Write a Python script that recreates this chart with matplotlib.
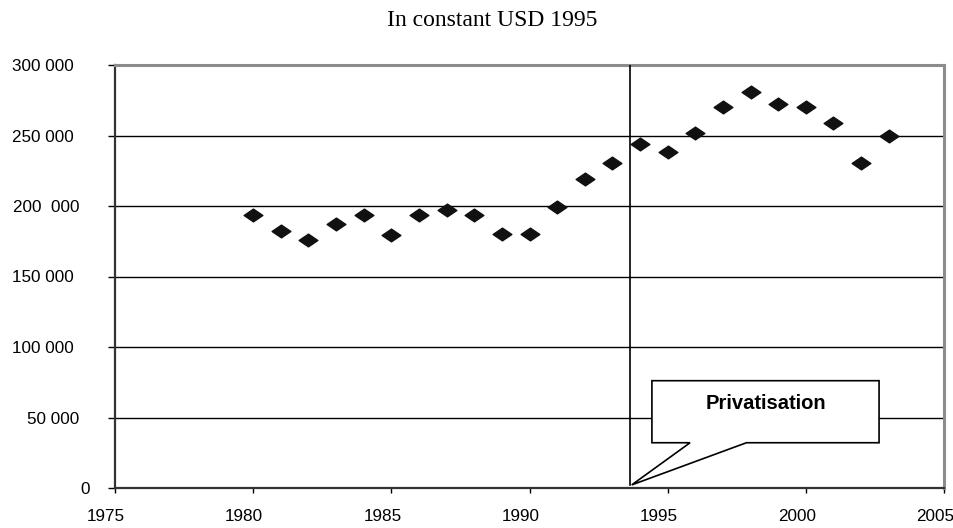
import matplotlib
matplotlib.use('Agg')
import matplotlib.pyplot as plt
from matplotlib.path import Path
from matplotlib.patches import Polygon
from matplotlib.ticker import FixedLocator
from matplotlib.transforms import ScaledTranslation

# data
years = [1980, 1981, 1982, 1983, 1984, 1985, 1986, 1987, 1988, 1989, 1990,
         1991, 1992, 1993, 1994, 1995, 1996, 1997, 1998, 1999, 2000, 2001,
         2002, 2003]
values = [193500, 182000, 176000, 187500, 193500, 179500, 193500, 197000,
          193500, 180000, 180000, 199000, 219500, 230500, 243800, 238500,
          251500, 270000, 281000, 272000, 270000, 259000, 230500, 249500]
y_ticks = [0, 50000, 100000, 150000, 200000, 250000, 300000]
y_labels = ['0', '50 000', '100 000', '150 000', '200  000', '250 000', '300 000']
x_ticks = [1975, 1980, 1985, 1990, 1995, 2000, 2005]
privatisation_year = 1993.65
title = 'In constant USD 1995'
callout_text = 'Privatisation'

fig = plt.figure(figsize=(9.54, 5.28), dpi=100)
ax = fig.add_axes([115 / 954, 1 - 488 / 528, 829 / 954, 423 / 528])

ax.set_xlim(1975, 2005)
ax.set_ylim(0, 300000)

# horizontal grid
for yv in y_ticks[1:-1]:
    ax.axhline(yv, color='black', lw=1.0, zorder=1)

# flattened diamond marker
diamond = Path([(-1, 0), (0, 0.68), (1, 0), (0, -0.68), (-1, 0)],
               [Path.MOVETO, Path.LINETO, Path.LINETO, Path.LINETO, Path.CLOSEPOLY])
ax.plot(years, values, linestyle='none', marker=diamond, markersize=13.5,
        color='#111111', zorder=4)

# privatisation line
ax.plot([privatisation_year, privatisation_year], [2000, 300000],
        color='black', lw=1.2, zorder=3)

# callout box with tail
box_x0, box_x1 = 1994.43, 2002.65
box_y0, box_y1 = 32100, 76100
tail_a, tail_b = 1995.81, 1997.85
tip = (privatisation_year + 0.05, 2200)
callout = Polygon([(box_x0, box_y0), (box_x0, box_y1), (box_x1, box_y1),
                   (box_x1, box_y0), (tail_b, box_y0), tip, (tail_a, box_y0)],
                  closed=True, facecolor='white', edgecolor='black', lw=1.2,
                  zorder=5)
ax.add_patch(callout)
ax.text((box_x0 + box_x1) / 2, 60000, callout_text, ha='center', va='center',
        fontsize=14.5, fontweight='bold',
        family=['Liberation Sans Narrow', 'Liberation Sans', 'DejaVu Sans'],
        zorder=6)

# frame
for side in ['top', 'right']:
    ax.spines[side].set_color('#8c8c8c')
    ax.spines[side].set_linewidth(2.2)
for side in ['left', 'bottom']:
    ax.spines[side].set_color('#333333')
    ax.spines[side].set_linewidth(1.6)

ax.yaxis.set_major_locator(FixedLocator(y_ticks))
ax.set_yticklabels(y_labels)
ax.xaxis.set_major_locator(FixedLocator(x_ticks))
ax.set_xticklabels([str(x) for x in x_ticks])
ax.tick_params(axis='y', direction='out', length=5, width=1, pad=25,
               labelsize=12.3)
ax.tick_params(axis='x', direction='out', length=3.5, width=1, pad=11.5,
               labelsize=12.3)

# the original labels sit a little off their ticks
y_shift = [17, 6, 0, 0, 6, 0, 0]
for lab, dx in zip(ax.get_yticklabels(), y_shift):
    lab.set_family(['Liberation Sans', 'DejaVu Sans'])
    lab.set_transform(lab.get_transform() +
                      ScaledTranslation(dx / 100, 0, fig.dpi_scale_trans))
for lab in ax.get_xticklabels():
    lab.set_family(['Liberation Sans', 'DejaVu Sans'])
    lab.set_transform(lab.get_transform() +
                      ScaledTranslation(-9 / 100, 0, fig.dpi_scale_trans))

fig.text(492 / 954, 1 - 21 / 528, title, ha='center', va='center',
         fontsize=17, family=['Liberation Serif', 'DejaVu Serif'])

fig.savefig('out.png', dpi=100)
